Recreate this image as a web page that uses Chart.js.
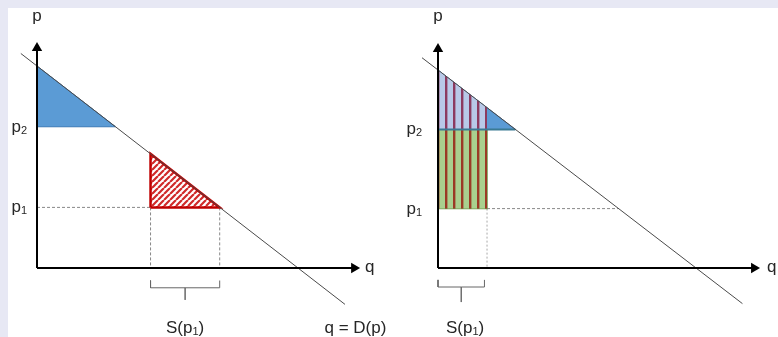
<!DOCTYPE html>
<html>
<head>
<meta charset="utf-8">
<script src="https://cdn.jsdelivr.net/npm/chart.js@4.4.0/dist/chart.umd.min.js"></script>
<style>
  html, body { margin: 0; padding: 0; width: 778px; height: 337px; overflow: hidden; background: #e7e8f4; }
  #sheet { position: absolute; left: 8px; top: 8px; right: 0; bottom: 0; background: #fff; }
  canvas { position: absolute; top: 8px; }
  #leftChart { left: 8px; }
  #rightChart { left: 389px; }
</style>
</head>
<body>
<div id="sheet"></div>
<canvas id="leftChart" width="381" height="329"></canvas>
<canvas id="rightChart" width="389" height="329"></canvas>
<script>
// demand curve q = D(p), drawn a little past both axes
const demandQ = [-0.62, 11.8];
const demandP = [10.62, -1.8];

// the two price levels
const priceLevels = [3, 7];           // p1, p2
const priceSubs = ['1', '2'];

// left diagram: surplus above p2, shortage triangle at p1
const surplusQ = [0, 3];
const surplusP = [10, 7];
const shortageQ = [4.35, 7];
const shortageP = [5.65, 3];

// right diagram: supply S(p1) sold at p2
const supplyQ = [0, 1.9];
const supplyTopP = [10, 8.1];

const FONT = '"Liberation Sans", Arial, sans-serif';

function pts(xs, ys) {
  return xs.map((x, i) => ({ x: x, y: ys[i] }));
}

function line(data, extra) {
  return Object.assign({
    data: data,
    showLine: true,
    fill: false,
    pointRadius: 0,
    pointHoverRadius: 0,
    borderWidth: 1,
    borderColor: '#444'
  }, extra);
}

// striped fills
function stripes(bg, fg, period, w, diagonal) {
  const c = document.createElement('canvas');
  c.width = period;
  c.height = period;
  const g = c.getContext('2d');
  g.fillStyle = bg;
  g.fillRect(0, 0, period, period);
  if (diagonal) {
    g.strokeStyle = fg;
    g.lineWidth = w;
    g.beginPath();
    [-period, 0, period].forEach(o => {
      g.moveTo(o, period);
      g.lineTo(o + period, 0);
    });
    g.stroke();
  } else {
    g.fillStyle = fg;
    g.fillRect(0, 0, w, period);
  }
  return g.createPattern(c, 'repeat');
}

// axes with arrow heads
function axes(qEnd, pEnd) {
  return [
    line([{ x: 0, y: 0 }, { x: 0, y: pEnd }], {
      borderColor: '#000', borderWidth: 2, order: 0,
      pointRadius: [0, 6], pointStyle: 'triangle',
      pointBackgroundColor: '#000', pointBorderWidth: 0
    }),
    line([{ x: 0, y: 0 }, { x: qEnd, y: 0 }], {
      borderColor: '#000', borderWidth: 2, order: 0,
      pointRadius: [0, 6], pointStyle: 'triangle', pointRotation: 90,
      pointBackgroundColor: '#000', pointBorderWidth: 0
    })
  ];
}

function brace(q0, q1, top, bottom, tip) {
  const mid = (q0 + q1) / 2;
  return line([
    { x: q0, y: top }, { x: q0, y: bottom }, { x: mid, y: bottom },
    { x: mid, y: tip }, { x: mid, y: bottom }, { x: q1, y: bottom }, { x: q1, y: top }
  ], { borderColor: '#666', order: 5 });
}

// p with a subscript etc.
function drawRuns(ctx, runs, x, y, align) {
  const big = '17px ' + FONT, small = '11px ' + FONT;
  let total = 0;
  runs.forEach(r => {
    ctx.font = r[1] ? small : big;
    total += ctx.measureText(r[0]).width;
  });
  let cx = align === 'center' ? x - total / 2 : align === 'right' ? x - total : x;
  runs.forEach(r => {
    ctx.font = r[1] ? small : big;
    ctx.fillText(r[0], cx, y + (r[1] ? 2 : 0));
    cx += ctx.measureText(r[0]).width;
  });
}

const textPlugin = {
  id: 'diagramText',
  afterDraw(chart, args, opts) {
    const ctx = chart.ctx;
    const sx = chart.scales.x, sy = chart.scales.y;
    ctx.save();
    ctx.fillStyle = '#262626';
    ctx.textBaseline = 'alphabetic';
    ctx.textAlign = 'left';
    (opts.items || []).forEach(it => {
      const x = sx.getPixelForValue(it.q) + (it.dx || 0);
      const y = sy.getPixelForValue(it.p) + (it.dy || 0);
      drawRuns(ctx, it.runs, x, y, it.align || 'left');
    });
    ctx.restore();
  }
};

// map data units to the canvas: origin pixel + pixels per unit
function frame(ox, oy, ux, uy, w, h) {
  return {
    x: { type: 'linear', display: false, min: -ox / ux, max: (w - ox) / ux },
    y: { type: 'linear', display: false, min: -(h - oy) / uy, max: oy / uy }
  };
}

function baseOptions(scales, items) {
  return {
    responsive: false,
    animation: false,
    events: [],
    layout: { padding: 0, autoPadding: false },
    scales: scales,
    plugins: {
      legend: { display: false },
      tooltip: { enabled: false },
      diagramText: { items: items }
    }
  };
}

const dash = { borderColor: '#888', borderDash: [3, 2], order: 5 };
const p1 = priceLevels[0], p2 = priceLevels[1];

// ---- left diagram ----
const leftData = {
  datasets: [
    ...axes(12.15, 10.89),
    line(pts(demandQ, demandP), { borderColor: '#4a4a4a', order: 1 }),
    // shortage triangle outline
    line([
      { x: shortageQ[0], y: p1 }, { x: shortageQ[0], y: shortageP[0] },
      { x: shortageQ[1], y: shortageP[1] }, { x: shortageQ[0], y: p1 }
    ], { borderColor: '#c00000', borderWidth: 2.5, order: 2 }),
    line(pts(shortageQ, shortageP), {
      borderWidth: 0, order: 3, fill: { value: p1 },
      backgroundColor: stripes('#ffffff', '#d02a2a', 6, 2.2, true)
    }),
    line(pts(surplusQ, surplusP), {
      borderColor: '#3f74ac', borderWidth: 1, order: 3, fill: { value: p2 },
      backgroundColor: '#5b9bd5'
    }),
    line([{ x: surplusQ[0], y: p2 }, { x: surplusQ[1], y: p2 }], { borderColor: '#3f74ac', borderWidth: 1.5, order: 3 }),
    line([{ x: 0, y: p1 }, { x: shortageQ[0], y: p1 }], dash),
    line([{ x: shortageQ[0], y: p1 }, { x: shortageQ[0], y: 0 }], dash),
    line([{ x: shortageQ[1], y: p1 }, { x: shortageQ[1], y: 0 }], dash),
    brace(shortageQ[0], shortageQ[1], -0.62, -0.98, -1.58)
  ]
};

new Chart(document.getElementById('leftChart'), {
  type: 'scatter',
  data: leftData,
  options: baseOptions(frame(29, 260, 26.1, 20.2, 381, 329), [
    { runs: [['p']], q: 0, p: 12.23, align: 'center' },
    { runs: [['q']], q: 12.57, p: 0, dy: 4 },
    { runs: [['p'], [priceSubs[1], 1]], q: 0, p: p2, dx: -10, dy: 5, align: 'right' },
    { runs: [['p'], [priceSubs[0], 1]], q: 0, p: p1, dx: -10, dy: 5, align: 'right' },
    { runs: [['S(p'], [priceSubs[0], 1], [')']], q: (shortageQ[0] + shortageQ[1]) / 2, p: -3.22, align: 'center' },
    { runs: [['q = D(p)']], q: 12.2, p: -3.22, align: 'center' }
  ]),
  plugins: [textPlugin]
});

// ---- right diagram ----
const rightData = {
  datasets: [
    ...axes(12.25, 11.06),
    line(pts(demandQ, demandP), { borderColor: '#4a4a4a', order: 1 }),
    // S(p1) bought at p2: striped over the surplus and the revenue box
    line(pts(supplyQ, supplyTopP), {
      borderWidth: 0, order: 2, fill: { value: p2 },
      backgroundColor: stripes('#b8c9e8', '#8c3a60', 8, 2.4, false)
    }),
    line([{ x: supplyQ[0], y: p2 }, { x: supplyQ[1], y: p2 }], {
      borderWidth: 0, order: 2, fill: { value: p1 },
      backgroundColor: stripes('#a9d08e', '#9b3a25', 8, 2.4, false)
    }),
    line([
      { x: supplyQ[0], y: p1 }, { x: supplyQ[1], y: p1 }, { x: supplyQ[1], y: p2 }
    ], { borderColor: '#6f9a4e', borderWidth: 1.5, order: 2 }),
    line(pts(surplusQ, surplusP), {
      borderColor: '#3f74ac', borderWidth: 1, order: 3, fill: { value: p2 },
      backgroundColor: '#5b9bd5'
    }),
    line([{ x: surplusQ[0], y: p2 }, { x: surplusQ[1], y: p2 }], { borderColor: '#3a7a94', borderWidth: 2, order: 1 }),
    line([{ x: supplyQ[1], y: p1 }, { x: demandQ[0] + demandP[0] - p1, y: p1 }], dash),
    line([{ x: supplyQ[1], y: p1 }, { x: supplyQ[1], y: 0 }], { borderColor: '#aaa', borderDash: [2, 2], order: 5 }),
    brace(supplyQ[0], 1.8, -0.6, -0.96, -1.72)
  ]
};

new Chart(document.getElementById('rightChart'), {
  type: 'scatter',
  data: rightData,
  options: baseOptions(frame(49, 260, 25.8, 19.8, 389, 329), [
    { runs: [['p']], q: 0, p: 12.47, align: 'center' },
    { runs: [['q']], q: 12.75, p: 0, dy: 4 },
    { runs: [['p'], [priceSubs[1], 1]], q: 0, p: p2, dx: -16, dy: 5, align: 'right' },
    { runs: [['p'], [priceSubs[0], 1]], q: 0, p: p1, dx: -16, dy: 5, align: 'right' },
    { runs: [['S(p'], [priceSubs[0], 1], [')']], q: 1.05, p: -3.28, align: 'center' }
  ]),
  plugins: [textPlugin]
});
</script>
</body>
</html>
